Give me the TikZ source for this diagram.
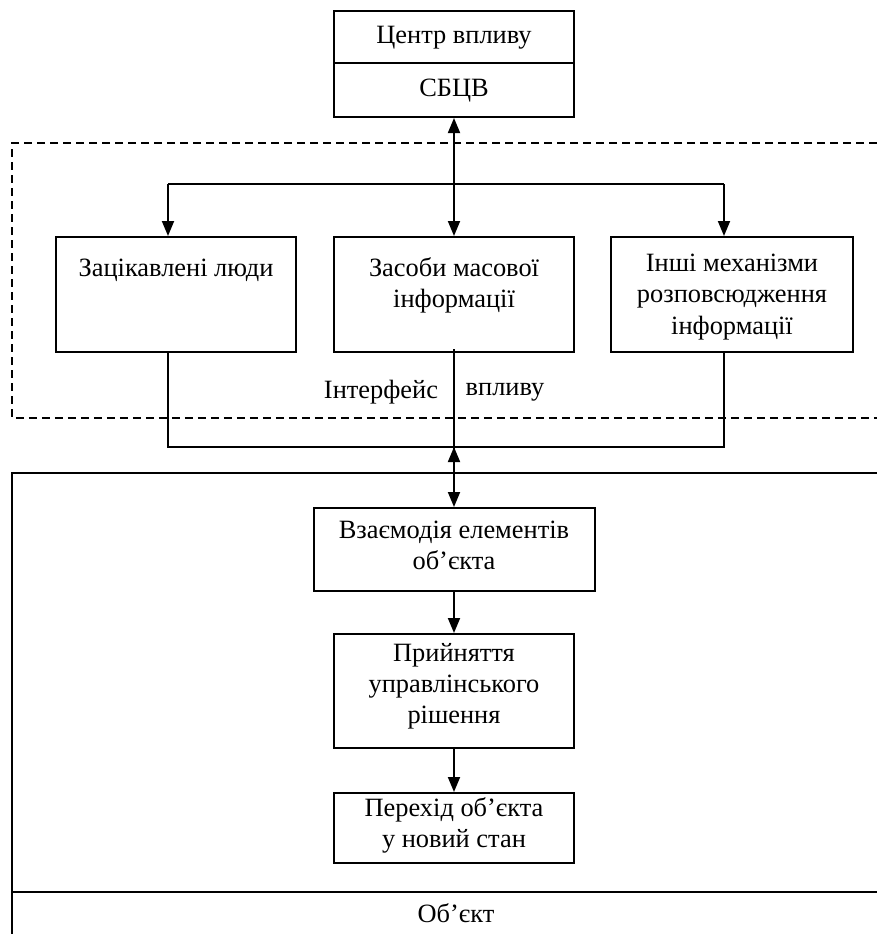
\documentclass[tikz,border=0pt]{standalone}
\usepackage{fontspec}
\setmainfont{Liberation Serif}
\usetikzlibrary{arrows.meta}
\begin{document}
\begin{tikzpicture}[x=0.5pt,y=-0.5pt,
  box/.style={draw, line width=1pt, rectangle, inner sep=0pt},
  txt/.style={align=center, inner sep=0pt, font=\fontsize{13.2}{15.6}\selectfont},
  conn/.style={line width=0.9pt},
  arr/.style={conn, -{Triangle[length=7.5pt,width=6pt]}},
  darr/.style={conn, {Triangle[length=7.5pt,width=6pt]}-{Triangle[length=7.5pt,width=6pt]}},
  frame/.style={line width=1pt},
  dframe/.style={line width=0.9pt, dash pattern=on 4pt off 2.5pt}]
\useasboundingbox (0,0) rectangle (877,934);

% frames
\draw[dframe] (877,143) -- (12,143) -- (12,418) -- (877,418);
\draw[frame] (877,473) -- (12,473) -- (12,934);
\draw[frame] (12,892) -- (877,892);

% top box
\node[box, minimum width=120pt, minimum height=26pt] (cv) at (454,37) {};
\node[box, minimum width=120pt, minimum height=27pt] (sb) at (454,90) {};
\node[txt] (cvt) at (454,38) {Центр впливу};
\node[txt] (sbt) at (454,91) {СБЦВ};

% row of three boxes
\node[box, minimum width=120pt, minimum height=57.5pt] (zl) at (176,294.5) {};
\node[box, minimum width=120pt, minimum height=57.5pt] (zm) at (454,294.5) {};
\node[box, minimum width=121pt, minimum height=57.5pt] (im) at (732,294.5) {};
\node[txt] (zlt) at (176,270) {Зацікавлені люди};
\node[txt] (zmt) at (454,285) {Засоби масової\\інформації};
\node[txt] (imt) at (732,297) {Інші механізми\\розповсюдження\\інформації};

% lower boxes
\node[box, minimum width=140.5pt, minimum height=41.5pt] (vz) at (454,549.5) {};
\node[txt] (vzt) at (454,545) {Взаємодія елементів\\об’єкта};
\node[box, minimum width=120pt, minimum height=57pt] (pr) at (454,691) {};
\node[txt] (prt) at (454,686) {Прийняття\\управлінського\\рішення};
\node[box, minimum width=120pt, minimum height=35pt] (pe) at (454,828) {};
\node[txt] (pet) at (454,825) {Перехід об’єкта\\у новий стан};

% labels
\node[txt] (if1) at (381,392) {Інтерфейс};
\node[txt] (if2) at (505,392) {впливу};
\node[txt] (ob) at (456,913) {Об’єкт};

% buses
\coordinate (tL) at (168,184);
\coordinate (tR) at (724,184);
\coordinate (mS) at (454,349);
\coordinate (bL) at (168,447);
\coordinate (bC) at (454,447);
\coordinate (bR) at (724,447);
\coordinate (upS) at (454,480);

\draw[darr] (sb.south) -- (zm.north);
\draw[conn] (tL) -- (tR);
\draw[arr] (tL) -- (tL |- zl.north);
\draw[arr] (tR) -- (tR |- im.north);

\draw[conn] (bL |- zl.south) -- (bL) -- (bR) -- (bR |- im.south);
\draw[conn] (mS) -- (bC);
\draw[arr] (upS) -- (bC);
\draw[arr] (bC) -- (vz.north);
\draw[arr] (vz.south) -- (pr.north);
\draw[arr] (pr.south) -- (pe.north);
\end{tikzpicture}
\end{document}
